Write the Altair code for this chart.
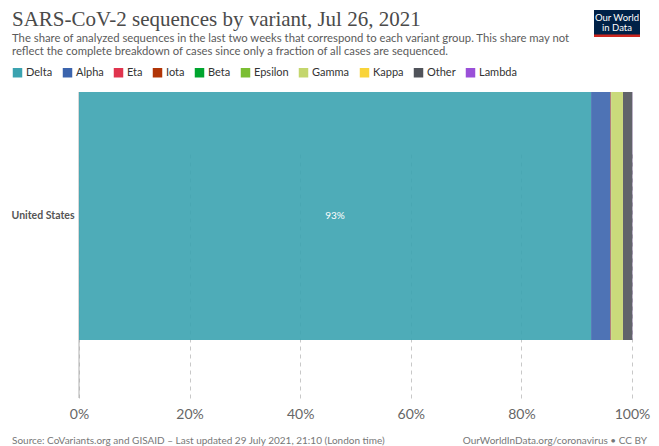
import altair as alt
import pandas as pd

# ---------------- data ----------------
countries = ["United States"]
variants = ["Delta", "Alpha", "Eta", "Iota", "Beta", "Epsilon", "Gamma", "Kappa", "Other", "Lambda"]
shares = [92.6, 3.5, 0.02, 0.1, 0.01, 0.03, 2.1, 0.01, 1.7, 0.03]
colors = ["#3BA3B0", "#3B64AD", "#E0344E", "#B13507", "#00A52E",
          "#7BBE33", "#C4D66D", "#F9D43A", "#50535A", "#9A50D8"]
x_ticks = [0, 20, 40, 60, 80, 100]

title_text = "SARS-CoV-2 sequences by variant, Jul 26, 2021"
subtitle_lines = [
    "The share of analyzed sequences in the last two weeks that correspond to each variant group. This share may not",
    "reflect the complete breakdown of cases since only a fraction of all cases are sequenced.",
]
source_text = "Source: CoVariants.org and GISAID \u2013 Last updated 29 July 2021, 21:10 (London time)"
url_text = "OurWorldInData.org/coronavirus \u2022 CC BY"

df = pd.DataFrame({
    "country": [countries[0]] * len(variants),
    "variant": variants,
    "share": shares,
    "order": list(range(len(variants))),
})

W, H = 553, 306
BAR_H = 248
BODY_FONT = "Lato"

one = alt.Data(values=[{}])

x_scale = alt.Scale(domain=[0, 100], nice=False)
y_scale = alt.Scale(range=[0, BAR_H], paddingInner=0, paddingOuter=0)

zero_rule = alt.Chart(one).mark_rule(color="#b0b0b0", strokeWidth=1).encode(
    x=alt.datum(0, scale=x_scale, title=None)
)

bars = alt.Chart(df).mark_bar(opacity=0.9).encode(
    x=alt.X("share:Q", stack="zero", scale=x_scale, title=None,
            axis=alt.Axis(values=x_ticks, labelExpr="datum.value + '%'", grid=True,
                          gridDash=[4, 4], gridColor="#c8c8c8", gridWidth=1,
                          domain=False, ticks=False, labelFlush=False,
                          labelFontSize=14, labelColor="#666", labelPadding=9,
                          labelFont=BODY_FONT, title=None)),
    y=alt.Y("country:N", scale=y_scale, title=None,
            axis=alt.Axis(domain=False, ticks=False, grid=False, labelFontWeight="bold",
                          labelFontSize=10.5, labelColor="#555", labelPadding=5,
                          labelFont=BODY_FONT, title=None)),
    color=alt.Color("variant:N", scale=alt.Scale(domain=variants, range=colors), sort=variants,
                    legend=alt.Legend(orient="none", legendX=-67, legendY=-25,
                                      direction="horizontal", title=None,
                                      symbolType="square", symbolSize=90,
                                      symbolStrokeWidth=0, symbolOpacity=1,
                                      labelFontSize=11, labelFont=BODY_FONT,
                                      labelColor="#333", labelOffset=3,
                                      columnPadding=9)),
    order=alt.Order("order:Q"),
)

label = alt.Chart(df).transform_filter(
    alt.datum.variant == "Delta"
).transform_calculate(
    mid="datum.share / 2", lbl="format(datum.share, '.0f') + '%'"
).mark_text(color="white", fontSize=10, font=BODY_FONT).encode(
    x=alt.X("mid:Q", scale=x_scale, title=None),
    y=alt.Y("country:N", scale=y_scale, title=None),
    text="lbl:N",
)

def txt(s, x, y, size, color, font=BODY_FONT, align="left", baseline="middle", weight="normal"):
    return alt.Chart(one).mark_text(
        text=s, fontSize=size, color=color, font=font, align=align,
        baseline=baseline, fontWeight=weight
    ).encode(x=alt.value(x), y=alt.value(y))

title = txt(title_text, -67, -66, 21, "#4a4a4a", font="Liberation Serif", baseline="alphabetic")
sub1 = txt(subtitle_lines[0], -67, -53.5, 11.3, "#5b5b5b")
sub2 = txt(subtitle_lines[1], -67, -40, 11.3, "#5b5b5b")
foot_l = txt(source_text, -67, 349, 10, "#777")
foot_r = txt(url_text, 568, 349, 10, "#777", align="right")

logo_box = alt.Chart(one).mark_rect(color="#002147").encode(
    x=alt.value(515), x2=alt.value(561), y=alt.value(-82), y2=alt.value(-55))
logo_red = alt.Chart(one).mark_rect(color="#CE261E").encode(
    x=alt.value(515), x2=alt.value(561), y=alt.value(-57.5), y2=alt.value(-55))
logo_t1 = txt("Our World", 538, -74.5, 9.5, "white", align="center")
logo_t2 = txt("in Data", 538, -64.5, 9.5, "white", align="center")

chart = alt.layer(
    zero_rule, bars, label, title, sub1, sub2, foot_l, foot_r,
    logo_box, logo_red, logo_t1, logo_t2
).properties(
    width=W, height=H,
    autosize=alt.AutoSizeParams(type="none"),
    padding={"left": 79, "top": 92, "right": 27, "bottom": 48},
    background="white",
).configure_view(stroke=None).configure_axisX(
    grid=True, gridDash=[4, 4], gridColor="#c8c8c8"
)

chart.save("out.html", embed_options={"renderer": "svg", "actions": False})
